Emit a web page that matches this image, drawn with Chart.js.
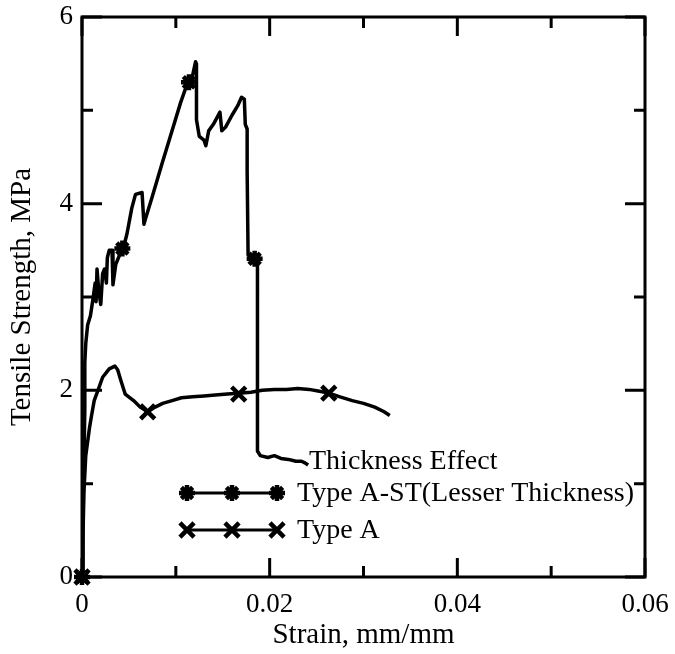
<!DOCTYPE html>
<html lang="en">
<head>
  <meta charset="UTF-8">
  <title>Thickness Effect</title>
  <script src="https://cdn.jsdelivr.net/npm/chart.js"></script>
  <style>
    body {
      margin: 0;
      background: #ffffff;
    }
    #strainChart {
      display: block;
    }
  </style>
</head>
<body>
  <canvas id="strainChart" width="675" height="654"></canvas>

  <script>
    // Type A-ST (Lesser Thickness): strain (mm/mm) and tensile strength (MPa)
    const typeAStStrain = [0, 0.0001, 0.0002, 0.0003, 0.0003, 0.0004, 0.0006, 0.0009, 0.0012, 0.0014,
      0.0015, 0.0016, 0.0018, 0.0020, 0.0022, 0.0024, 0.0026, 0.0027, 0.0029, 0.0032,
      0.0033, 0.0036, 0.0040, 0.0044, 0.0048, 0.0053, 0.0057, 0.0064, 0.0066, 0.0068,
      0.0075, 0.0085, 0.0095, 0.0105, 0.0112, 0.0118, 0.0121, 0.0122, 0.0122, 0.0125,
      0.0130, 0.0132, 0.0135, 0.0140, 0.0147, 0.0149, 0.0153, 0.0160, 0.0166, 0.0170,
      0.0173, 0.0174, 0.0176, 0.0176, 0.0177, 0.0182, 0.0187, 0.0187, 0.0190, 0.0198,
      0.0205, 0.0212, 0.0220, 0.0228, 0.0234, 0.0238, 0.0241];
    const typeAStStress = [0, 0.5, 1.2, 1.8, 2.3, 2.5, 2.7, 2.8, 3.0, 3.15,
      2.95, 3.3, 3.05, 2.92, 3.25, 3.3, 3.15, 3.42, 3.5, 3.5,
      3.13, 3.35, 3.45, 3.52, 3.68, 3.95, 4.1, 4.12, 3.78, 3.85,
      4.08, 4.42, 4.75, 5.08, 5.28, 5.38, 5.52, 5.5, 4.9, 4.72,
      4.68, 4.62, 4.78, 4.85, 4.98, 4.78, 4.82, 4.95, 5.05, 5.14,
      5.12, 4.85, 4.8, 4.35, 3.45, 3.42, 3.4, 1.35, 1.3, 1.28,
      1.3, 1.27, 1.26, 1.24, 1.24, 1.22, 1.2];
    const typeAStMarkStrain = [0, 0.0043, 0.0114, 0.0184];
    const typeAStMarkStress = [0, 3.52, 5.30, 3.41];

    // Type A
    const typeAStrain = [0, 0.0001, 0.0002, 0.0003, 0.0004, 0.0006, 0.0008, 0.0010, 0.0013, 0.0017,
      0.0022, 0.0029, 0.0035, 0.0038, 0.0041, 0.0046, 0.0055, 0.0062, 0.0070, 0.0078,
      0.0086, 0.0096, 0.0106, 0.0118, 0.0130, 0.0142, 0.0155, 0.0167, 0.0180, 0.0192,
      0.0205, 0.0218, 0.0230, 0.0242, 0.0253, 0.0263, 0.0275, 0.0288, 0.0300, 0.0312,
      0.0322, 0.0328];
    const typeAStress = [0, 0.4, 0.9, 1.1, 1.3, 1.45, 1.6, 1.72, 1.89, 2.0,
      2.14, 2.23, 2.26, 2.22, 2.12, 1.96, 1.89, 1.82, 1.77, 1.82,
      1.86, 1.89, 1.92, 1.93, 1.94, 1.95, 1.96, 1.97, 1.98, 2.0,
      2.01, 2.01, 2.02, 2.01, 1.99, 1.97, 1.93, 1.89, 1.86, 1.82,
      1.77, 1.73];
    const typeAMarkStrain = [0, 0.0070, 0.0167, 0.0263];
    const typeAMarkStress = [0, 1.77, 1.96, 1.97];

    const legendTitle = 'Thickness Effect';
    const seriesNames = ['Type A-ST(Lesser Thickness)', 'Type A'];

    const xTicks = [0, 0.02, 0.04, 0.06];
    const xMinorTicks = [0.01, 0.03, 0.05];
    const yTicks = [0, 2, 4, 6];
    const yMinorTicks = [1, 3, 5];

    const serif = "'Liberation Serif', 'Times New Roman', serif";

    function toPoints(xs, ys) {
      return xs.map((x, i) => ({ x: x, y: ys[i] }));
    }

    function drawMarker(ctx, style, x, y, r) {
      ctx.beginPath();
      if (style === 'star') {
        ctx.moveTo(x, y - r); ctx.lineTo(x, y + r);
        ctx.moveTo(x - r, y); ctx.lineTo(x + r, y);
      }
      const d = r * Math.SQRT1_2;
      ctx.moveTo(x - d, y - d); ctx.lineTo(x + d, y + d);
      ctx.moveTo(x + d, y - d); ctx.lineTo(x - d, y + d);
      ctx.stroke();
    }

    function noScalePadding(s) {
      s.paddingTop = 0;
      s.paddingBottom = 0;
      s.paddingLeft = 0;
      s.paddingRight = 0;
    }

    // box frame with inward ticks on all four sides
    const framePlugin = {
      id: 'frame',
      afterDatasetsDraw(chart) {
        const { ctx, chartArea: a, scales: { x, y } } = chart;
        ctx.save();
        ctx.strokeStyle = '#000';
        ctx.lineWidth = 3;
        ctx.lineCap = 'butt';
        ctx.strokeRect(a.left, a.top, a.right - a.left, a.bottom - a.top);
        ctx.beginPath();
        const xt = (vals, len) => vals.forEach(v => {
          const px = x.getPixelForValue(v);
          ctx.moveTo(px, a.bottom); ctx.lineTo(px, a.bottom - len);
          ctx.moveTo(px, a.top); ctx.lineTo(px, a.top + len);
        });
        const yt = (vals, len) => vals.forEach(v => {
          const py = y.getPixelForValue(v);
          ctx.moveTo(a.left, py); ctx.lineTo(a.left + len, py);
          ctx.moveTo(a.right, py); ctx.lineTo(a.right - len, py);
        });
        xt(xTicks, 19);
        xt(xMinorTicks, 11);
        yt(yTicks, 20);
        yt(yMinorTicks, 11);
        ctx.stroke();
        ctx.restore();
      }
    };

    // legend drawn inside the plot: title, then a sample line with three markers
    const legendPlugin = {
      id: 'innerLegend',
      afterDatasetsDraw(chart) {
        const { ctx } = chart;
        ctx.save();
        ctx.fillStyle = '#000';
        ctx.strokeStyle = '#000';
        ctx.font = '28px ' + serif;
        ctx.textBaseline = 'middle';
        ctx.textAlign = 'left';
        ctx.fillText(legendTitle, 309, 462);
        const rows = [
          { name: seriesNames[0], style: 'star', y: 493, r: 8, w: 4.5 },
          { name: seriesNames[1], style: 'crossRot', y: 530, r: 10, w: 4.5 }
        ];
        rows.forEach(row => {
          ctx.lineWidth = 3;
          ctx.beginPath();
          ctx.moveTo(187, row.y);
          ctx.lineTo(277, row.y);
          ctx.stroke();
          ctx.lineWidth = row.w;
          [187, 232, 277].forEach(px => drawMarker(ctx, row.style, px, row.y, row.r));
          ctx.fillText(row.name, 297, row.y + 1);
        });
        ctx.restore();
      }
    };

    const ctx = document.getElementById('strainChart').getContext('2d');
    new Chart(ctx, {
      type: 'scatter',
      data: {
        datasets: [
          {
            label: seriesNames[0],
            data: toPoints(typeAStStrain, typeAStStress),
            showLine: true,
            borderColor: '#000',
            borderWidth: 3.5,
            borderJoinStyle: 'round',
            pointRadius: 0,
            tension: 0
          },
          {
            label: seriesNames[1],
            data: toPoints(typeAStrain, typeAStress),
            showLine: true,
            borderColor: '#000',
            borderWidth: 3.5,
            borderJoinStyle: 'round',
            pointRadius: 0,
            tension: 0
          },
          {
            label: seriesNames[0] + ' markers',
            data: toPoints(typeAStMarkStrain, typeAStMarkStress),
            showLine: false,
            pointStyle: 'star',
            pointRadius: 8,
            pointBorderWidth: 4.5,
            pointBorderColor: '#000',
            pointBackgroundColor: '#000',
            clip: false
          },
          {
            label: seriesNames[1] + ' markers',
            data: toPoints(typeAMarkStrain, typeAMarkStress),
            showLine: false,
            pointStyle: 'crossRot',
            pointRadius: 10,
            pointBorderWidth: 4.5,
            pointBorderColor: '#000',
            pointBackgroundColor: '#000',
            clip: false
          }
        ]
      },
      options: {
        responsive: false,
        animation: false,
        devicePixelRatio: 1,
        layout: {
          autoPadding: false,
          padding: { top: 17, right: 30, left: 0, bottom: 0 }
        },
        plugins: {
          legend: { display: false },
          tooltip: { enabled: false }
        },
        scales: {
          x: {
            type: 'linear',
            min: 0,
            max: 0.06,
            afterFit: s => { s.height = 77; noScalePadding(s); },
            afterBuildTicks: s => { s.ticks = xTicks.map(v => ({ value: v })); },
            grid: { display: false, drawTicks: false },
            border: { display: false },
            ticks: {
              color: '#000',
              font: { family: serif, size: 27 },
              padding: 12,
              maxRotation: 0,
              callback: v => (v === 0 ? '0' : v.toFixed(2))
            },
            title: {
              display: true,
              text: 'Strain, mm/mm',
              color: '#000',
              font: { family: serif, size: 29, lineHeight: 1 },
              padding: { top: 0, bottom: 4 }
            }
          },
          y: {
            type: 'linear',
            min: 0,
            max: 6,
            afterFit: s => { s.width = 82; noScalePadding(s); },
            afterBuildTicks: s => { s.ticks = yTicks.map(v => ({ value: v })); },
            grid: { display: false, drawTicks: false },
            border: { display: false },
            ticks: {
              color: '#000',
              font: { family: serif, size: 27 },
              padding: 9
            },
            title: {
              display: true,
              text: 'Tensile Strength, MPa',
              color: '#000',
              font: { family: serif, size: 29, lineHeight: 1 },
              padding: { top: 8, bottom: 0 }
            }
          }
        }
      },
      plugins: [framePlugin, legendPlugin]
    });
  </script>
</body>
</html>
